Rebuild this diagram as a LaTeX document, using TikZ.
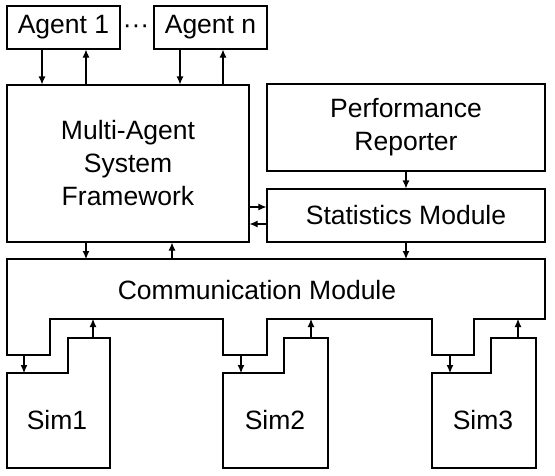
\documentclass[tikz,border=0pt]{standalone}
\usepackage{fontspec}
\setmainfont{Liberation Sans}
\usetikzlibrary{arrows.meta, positioning, calc}

\begin{document}
\begin{tikzpicture}[x=1pt, y=-1pt, line width=1.1pt, >={Latex[length=8pt,width=7pt]},
    box/.style={draw, rectangle, align=center, inner sep=0pt, font=\fontsize{26.5}{33}\selectfont},
    lbl/.style={align=center, font=\fontsize{26.5}{33}\selectfont}]
\useasboundingbox (0,0) rectangle (555,475);

% Agents
\node[box, minimum width=113, minimum height=43] (agent1) at (63.5,27.5) {Agent 1};
\node[box, minimum width=113, minimum height=43] (agentn) at (210.5,27.5) {Agent n};
\node[lbl] (dots) at (136,29) {···};

% Framework and reporting
\node[box, minimum width=242, minimum height=157] (mas) at (128,163.5) {Multi-Agent\\System\\Framework};
\node[box, minimum width=278, minimum height=87] (perf) at (406,127.5) {Performance\\Reporter};
\node[box, minimum width=278, minimum height=53] (stats) at (406,215.5) {Statistics Module};

% Communication module
\draw (7,259) -- (545,259) -- (545,319) -- (474,319) -- (474,355) -- (432,355) -- (432,319)
    -- (267,319) -- (267,355) -- (223,355) -- (223,319) -- (50,319) -- (50,355) -- (7,355) -- cycle;
\node[lbl] (comm) at (257,290) {Communication Module};

% Simulators
\draw (7,373) -- (68,373) -- (68,338) -- (110,338) -- (110,468) -- (7,468) -- cycle;
\node[lbl] (sim1) at (57,420) {Sim1};
\draw (223,373) -- (284,373) -- (284,338) -- (328,338) -- (328,468) -- (223,468) -- cycle;
\node[lbl] (sim2) at (275,420) {Sim2};
\draw (432,373) -- (491,373) -- (491,338) -- (536,338) -- (536,468) -- (432,468) -- cycle;
\node[lbl] (sim3) at (483,420) {Sim3};

% Connector ends on the drawn shapes
\coordinate (commtop) at (0,259);
\coordinate (commlow) at (0,355);
\coordinate (commhigh) at (0,319);
\coordinate (simlow) at (0,373);
\coordinate (simhigh) at (0,338);

% Agents <-> framework
\draw[->] (agent1.south -| 42,0) -- (mas.north -| 42,0);
\draw[<-] (agent1.south -| 86,0) -- (mas.north -| 86,0);
\draw[->] (agentn.south -| 180,0) -- (mas.north -| 180,0);
\draw[<-] (agentn.south -| 223,0) -- (mas.north -| 223,0);

% Framework <-> statistics
\draw[->] (mas.east |- 0,207) -- (stats.west |- 0,207);
\draw[<-] (mas.east |- 0,224) -- (stats.west |- 0,224);
\draw[->] (perf) -- (stats);
\draw[->] (stats.south) -- (stats.south |- commtop);

% Framework <-> communication
\draw[->] (mas.south -| 86,0) -- (commtop -| 86,0);
\draw[<-] (mas.south -| 172,0) -- (commtop -| 172,0);

% Communication <-> simulators
\draw[->] (commlow -| 24,0) -- (simlow -| 24,0);
\draw[<-] (commhigh -| 93,0) -- (simhigh -| 93,0);
\draw[->] (commlow -| 241,0) -- (simlow -| 241,0);
\draw[<-] (commhigh -| 311,0) -- (simhigh -| 311,0);
\draw[->] (commlow -| 450,0) -- (simlow -| 450,0);
\draw[<-] (commhigh -| 518,0) -- (simhigh -| 518,0);
\end{tikzpicture}
\end{document}
